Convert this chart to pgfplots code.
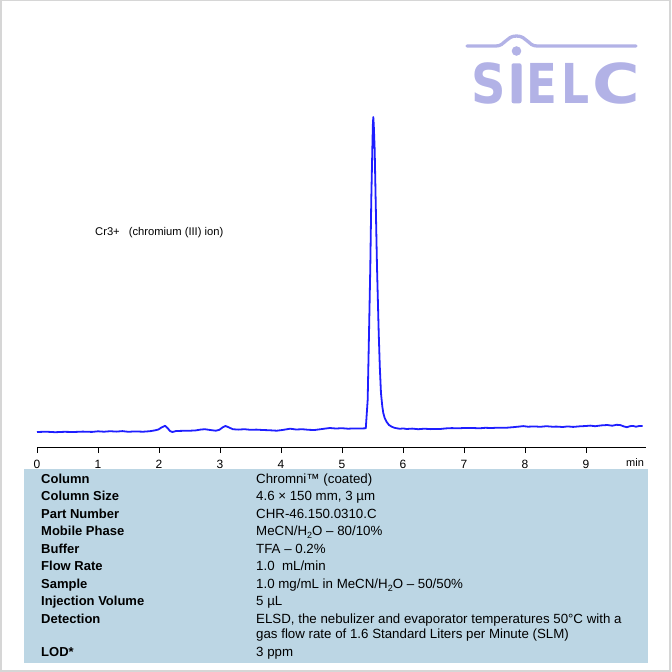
\documentclass[border=0pt]{standalone}
\usepackage{pgfplots}
\pgfplotsset{compat=1.18}
\usepackage{graphicx}
\usepackage{fontspec}
\setmainfont{Liberation Sans}
\newfontfamily\logofont{DejaVu Sans}
\definecolor{sig}{RGB}{30,30,255}
\definecolor{tbl}{RGB}{188,214,228}
\definecolor{logoc}{RGB}{178,178,230}
\definecolor{framec}{RGB}{214,214,214}

\pgfplotstableread{
t v
0.00 15
0.15 15.3
0.30 14.8
0.45 15.2
0.60 15.0
0.75 15.4
0.90 15.1
1.00 15.7
1.10 15.3
1.20 15.8
1.30 15.4
1.40 15.9
1.50 15.2
1.60 15.6
1.74 15.3
1.85 15.8
1.93 16.6
1.99 17.5
2.04 19.5
2.10 21.2
2.14 19.0
2.18 16.0
2.22 15.0
2.28 16.0
2.40 16.2
2.51 16.3
2.60 16.6
2.68 17.4
2.75 17.8
2.84 17.0
2.93 16.3
2.99 17.2
3.04 19.5
3.09 21
3.14 19.8
3.21 17.8
3.30 17.4
3.40 17.8
3.50 17.2
3.60 17.4
3.70 17.0
3.80 16.8
3.93 16.3
4.02 17.0
4.15 18.3
4.25 17.5
4.35 17.8
4.45 17.2
4.55 17.0
4.65 17.8
4.72 18.4
4.80 19.0
4.90 18.5
5.00 18.8
5.10 18.3
5.20 18.6
5.30 18.5
5.39 18.7
5.421 47
5.443 114
5.464 180
5.480 247
5.497 297
5.506 322
5.513 330
5.521 322
5.536 297
5.552 247
5.574 180
5.602 114
5.62 80
5.639 54
5.66 41
5.677 34
5.70 29
5.733 25
5.77 22
5.815 20.3
5.86 19.2
5.90 18.7
5.95 18.2
6.00 18.6
6.06 18.0
6.15 18.4
6.25 17.8
6.35 18.3
6.45 17.9
6.55 18.1
6.61 18
6.70 18.6
6.80 18.9
6.90 18.7
7.00 19.0
7.15 19.0
7.25 18.7
7.35 19.2
7.45 19.0
7.55 19.3
7.70 19.3
7.80 19.8
7.90 20.4
7.97 20.9
8.05 20.3
8.15 20.6
8.25 20.2
8.35 20.8
8.45 20.3
8.52 20.4
8.62 20.0
8.70 20.6
8.79 20.1
8.90 20.7
9.00 21.0
9.07 21.4
9.15 20.8
9.25 21.6
9.35 22.0
9.43 21.3
9.50 22.2
9.56 22.0
9.62 20.6
9.67 19.8
9.72 20.8
9.77 21.1
9.82 20.3
9.87 21.0
9.93 21.0
}\sigdata

\newcommand\tf{\fontsize{13bp}{15bp}\selectfont}
\newcommand\vf{\fontsize{13.3bp}{15bp}\selectfont}

\begin{document}
\begin{tikzpicture}
\begin{scope}[x=1bp,y=-1bp]
\path[use as bounding box] (0,0) rectangle (672,672);
\draw[framec, line width=1.5bp] (0.75,0.75) rectangle (670,671);
\fill[tbl] (24,468.5) rectangle (648,663.3);
% labels
\begin{scope}[every node/.style={anchor=base west, inner sep=0pt, font=\tf}]
\node at (41,483) {\bfseries Column};
\node at (41,500.5) {\bfseries Column Size};
\node at (41,518) {\bfseries Part Number};
\node at (41,535.5) {\bfseries Mobile Phase};
\node at (41,553) {\bfseries Buffer};
\node at (41,570.5) {\bfseries Flow Rate};
\node at (41,588) {\bfseries Sample};
\node at (41,605.5) {\bfseries Injection Volume};
\node at (41,623) {\bfseries Detection};
\node at (41,656) {\bfseries LOD*};
\end{scope}
\begin{scope}[every node/.style={anchor=base west, inner sep=0pt, font=\vf}]
\node at (256,483) {Chromni™ (coated)};
\node at (256,500.5) {4.6 × 150 mm, 3 µm};
\node at (256,518) {CHR-46.150.0310.C};
\node at (256,535.5) {MeCN/H\raisebox{-3bp}{\fontsize{9bp}{9bp}\selectfont 2}O – 80/10\%};
\node at (256,553) {TFA – 0.2\%};
\node at (256,570.5) {1.0\ \ mL/min};
\node at (256,588) {1.0 mg/mL in MeCN/H\raisebox{-3bp}{\fontsize{9bp}{9bp}\selectfont 2}O – 50/50\%};
\node at (256,605.5) {5 µL};
\node at (256,623) {ELSD, the nebulizer and evaporator temperatures 50°C with a};
\node at (256,638.5) {gas flow rate of 1.6 Standard Liters per Minute (SLM)};
\node at (256,656) {3 ppm};
\node[font=\fontsize{11.2bp}{13bp}\selectfont] at (95,235) {Cr3+\hspace{9bp}(chromium (III) ion)};
\node[font=\fontsize{11bp}{13bp}\selectfont] at (626,466.5) {min};
\end{scope}
% logo
\draw[logoc, line width=3.3bp, line cap=round] (467,46) -- (496,46) .. controls (505,46) and (506,36) .. (516.5,36) .. controls (527,36) and (528,46) .. (537,46) -- (636,46);
\fill[logoc] (516.5,51) circle (4.8);
\fill[logoc, rounded corners=2bp] (511.5,63.3) rectangle (521.5,103.3);
\begin{scope}[every node/.style={anchor=base, inner sep=0pt, text=logoc}]
\node at (489,103.3) {\scalebox{0.87}[1]{\fontsize{55bp}{55bp}\logofont\bfseries S}};
\node at (542,103.3) {\scalebox{0.82}[1]{\fontsize{55bp}{55bp}\logofont\bfseries E}};
\node at (576,103.3) {\scalebox{0.8}[1]{\fontsize{55bp}{55bp}\logofont\bfseries L}};
\node at (616.5,103.3) {\scalebox{1.18}[1]{\fontsize{55bp}{55bp}\logofont\bfseries C}};
\end{scope}
\end{scope}
\begin{axis}[
  at={(37bp,-447bp)}, anchor=south west,
  scale only axis, width=609bp, height=427bp,
  xmin=0, xmax=9.984, ymin=0, ymax=427,
  axis x line=bottom, axis y line=none,
  x axis line style={-, black, line width=0.9bp},
  xtick={0,1,...,9}, tick align=outside, major tick length=6bp,
  xtick style={black, line width=0.8bp},
  xticklabel style={font=\fontsize{12bp}{14bp}\selectfont, inner sep=0pt, yshift=-7bp},
  /pgf/number format/assume math mode=true,
  clip=false,
]
\addplot[sig, line width=1.8bp, line join=round] table[x=t, y=v] {\sigdata};
\end{axis}
\end{tikzpicture}
\end{document}
